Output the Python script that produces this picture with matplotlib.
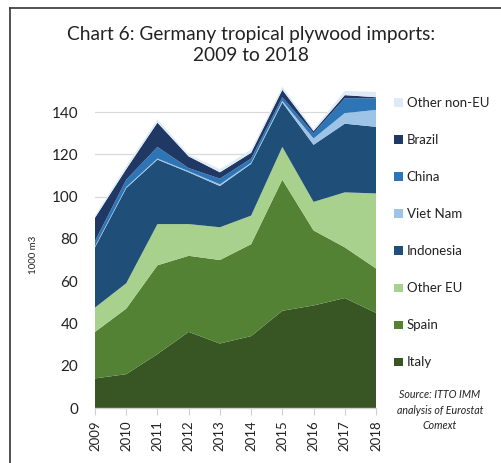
import matplotlib
matplotlib.use("Agg")
import matplotlib.pyplot as plt
from matplotlib.patches import Patch
from matplotlib.lines import Line2D

plt.rcParams['font.family'] = ['Lato', 'DejaVu Sans']

years = [2009, 2010, 2011, 2012, 2013, 2014, 2015, 2016, 2017, 2018]
italy = [14, 16, 25.5, 36, 30.5, 34, 46, 48.5, 52, 45]
spain = [22, 31, 42, 36, 39.5, 43.5, 62, 35.5, 24, 21]
other_eu = [11.5, 12, 19.5, 15, 15.5, 13.5, 15.5, 13.5, 26, 35.5]
indonesia = [28.5, 45, 30.5, 24.5, 19.5, 24.5, 21, 27, 32.5, 31.5]
viet_nam = [0.5, 0.5, 0.5, 0.5, 0.8, 0.5, 0.8, 3, 5, 8]
china = [2.5, 3.5, 5.5, 1.5, 2.7, 2, 1.7, 2.5, 7, 5.5]
brazil = [11, 5, 11.5, 5.5, 3, 2.7, 3.5, 1, 1.5, 0.5]
other_non_eu = [1, 1.5, 1.5, 1, 1.5, 1.5, 1.5, 1, 2, 2.5]

series = [
    ("Italy", italy, "#375623"),
    ("Spain", spain, "#548235"),
    ("Other EU", other_eu, "#A9D18E"),
    ("Indonesia", indonesia, "#1F4E79"),
    ("Viet Nam", viet_nam, "#9DC3E6"),
    ("China", china, "#2E75B6"),
    ("Brazil", brazil, "#203864"),
    ("Other non-EU", other_non_eu, "#DEEBF7"),
]

W, H = 501, 463
fig = plt.figure(figsize=(W / 100, H / 100), dpi=100)
ax = fig.add_axes([95 / W, 1 - 408 / H, (376 - 95) / W, (408 - 75) / H])

ax.stackplot(years, *[s[1] for s in series], colors=[s[2] for s in series],
             linewidth=0, zorder=2)

ax.set_xlim(2009, 2018)
ax.set_ylim(0, (408 - 75) / 2.114)
ax.set_yticks(range(0, 141, 20))
ax.set_xticks(years)
ax.set_xticklabels([str(y) for y in years], rotation=90)
ax.tick_params(axis='y', length=0, labelsize=11, colors='#222222', pad=12)
ax.tick_params(axis='x', length=5, width=0.8, color='#d0d0d0', labelsize=9.5,
               labelcolor='#222222', pad=4)
ax.grid(axis='y', color='#d9d9d9', linewidth=0.9, zorder=0)
ax.set_axisbelow(True)
for sp in ['top', 'right', 'left']:
    ax.spines[sp].set_visible(False)
ax.spines['bottom'].set_color('#d0d0d0')
ax.spines['bottom'].set_linewidth(1.0)
ax.spines['bottom'].set_zorder(3)

fig.text(34 / W, 1 - 255 / H, "1000 m3", rotation=90, ha='center', va='center',
         fontsize=7, color='#222222')

fig.text(251 / W, 1 - 45 / H, "Chart 6: Germany tropical plywood imports:\n2009 to 2018",
         ha='center', va='center', fontsize=13.8, color='#222222', linespacing=1.25)

handles = [Patch(facecolor=s[2], edgecolor='none') for s in reversed(series)]
labels = [s[0] for s in reversed(series)]
leg = fig.legend(handles, labels, loc='upper left', bbox_to_anchor=(394 / W, 1 - 97 / H),
                 frameon=False, fontsize=9.5, labelspacing=1.9, handlelength=0.65,
                 handleheight=0.6, handletextpad=0.3, borderaxespad=0, borderpad=0,
                 labelcolor='#222222')

fig.text(440 / W, 1 - 410 / H, "Source: ITTO IMM\nanalysis of Eurostat\nComext",
         ha='center', va='center', fontsize=7.7, style='italic', color='#222222',
         linespacing=1.45)

# outer frame
frame_kw = dict(color='#333333', linewidth=1.2, transform=fig.transFigure)
fig.add_artist(Line2D([10 / W, 10 / W], [0, 1 - 8 / H], **frame_kw))
fig.add_artist(Line2D([10 / W, 1.0], [1 - 8 / H, 1 - 8 / H], **frame_kw))

fig.savefig("out.png", dpi=100)
